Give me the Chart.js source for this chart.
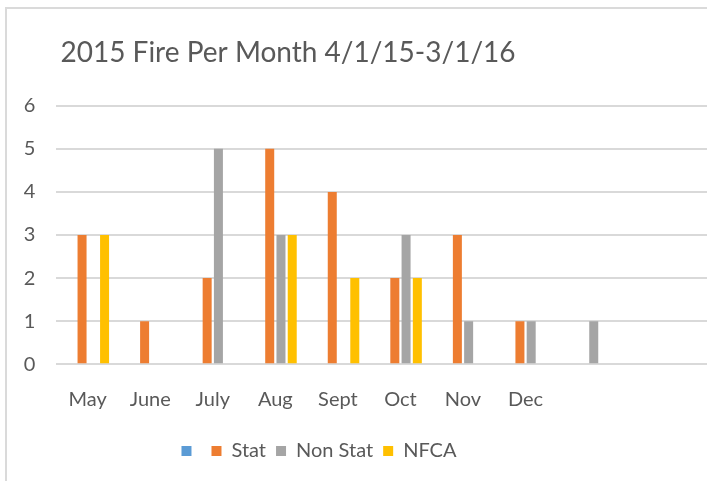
<!DOCTYPE html>
<html>
<head>
<meta charset="utf-8">
<script src="https://cdn.jsdelivr.net/npm/chart.js@4/dist/chart.umd.min.js"></script>
<style>
  html, body { margin: 0; padding: 0; background: #ffffff; overflow: hidden; width: 707px; height: 481px; }
  #wrap { position: relative; width: 707px; height: 481px; overflow: hidden; }
  #frame { position: absolute; left: 5px; top: 7px; width: 800px; height: 600px; border: 2px solid #dadada; box-sizing: border-box; pointer-events: none; }
  #c { position: absolute; left: 0; top: 0; }
</style>
</head>
<body>
<div id="wrap">
  <canvas id="c" width="760" height="481"></canvas>
  <div id="frame"></div>
</div>
<script>
const chartTitle = '2015 Fire Per Month 4/1/15-3/1/16';
const categories = ['May', 'June', 'July', 'Aug', 'Sept', 'Oct', 'Nov', 'Dec', '', '', ''];
const seriesNames = ['', 'Stat', 'Non Stat', 'NFCA'];
const blankSeries = [null, null, null, null, null, null, null, null, null, null, null];
const statValues = [3, 1, 2, 5, 4, 2, 3, 1, null, null, null];
const nonStatValues = [null, null, 5, 3, null, 3, 1, 1, 1, null, null];
const nfcaValues = [3, null, null, 3, 2, 2, null, null, null, null, null];
const yTicks = [0, 1, 2, 3, 4, 5, 6];

const colors = ['#5B9BD5', '#ED7D31', '#A5A5A5', '#FFC000'];
const textColor = '#595959';
const fontFamily = 'Lato, "Open Sans", sans-serif';

const seriesData = [blankSeries, statValues, nonStatValues, nfcaValues];

const shiftPlugin = {
  id: 'shiftBlocks',
  afterLayout(chart) {
    if (chart.titleBlock) { chart.titleBlock.left = 0; chart.titleBlock.right = 576; }
    if (chart.legend) { chart.legend.left = 0; chart.legend.right = 638; }
  }
};

new Chart(document.getElementById('c'), {
  type: 'bar',
  data: {
    labels: categories,
    datasets: seriesNames.map((name, i) => ({
      label: name,
      data: seriesData[i],
      backgroundColor: colors[i],
      borderWidth: 0,
      barPercentage: 0.8,
      categoryPercentage: 0.72
    }))
  },
  options: {
    responsive: false,
    animation: false,
    events: [],
    layout: { padding: { left: 0, right: 15.5, top: 0, bottom: 10 } },
    plugins: {
      title: {
        display: true,
        text: chartTitle,
        color: textColor,
        font: { family: fontFamily, size: 28, weight: 'normal', lineHeight: 1.2 },
        padding: { top: 36.2, bottom: 35.9 }
      },
      legend: {
        display: true,
        position: 'bottom',
        labels: {
          color: textColor,
          font: { family: fontFamily, size: 20 },
          boxWidth: 10,
          boxHeight: 10,
          padding: 10
        }
      },
      tooltip: { enabled: false }
    },
    scales: {
      x: {
        grid: { display: false, drawTicks: false },
        border: { display: false },
        ticks: {
          color: textColor,
          font: { family: fontFamily, size: 20 },
          padding: 23,
          maxRotation: 0,
          autoSkip: false
        },
        afterFit(scale) { scale.height = 66.7; }
      },
      y: {
        min: 0,
        max: 6,
        afterBuildTicks(scale) { scale.ticks = yTicks.map(v => ({ value: v })); },
        grid: { color: '#d9d9d9', lineWidth: 2, drawTicks: false },
        border: { display: false },
        ticks: {
          color: textColor,
          font: { family: fontFamily, size: 20 },
          padding: 21
        },
        afterFit(scale) { scale.width = 56.4; }
      }
    }
  },
  plugins: [shiftPlugin]
});
</script>
</body>
</html>
